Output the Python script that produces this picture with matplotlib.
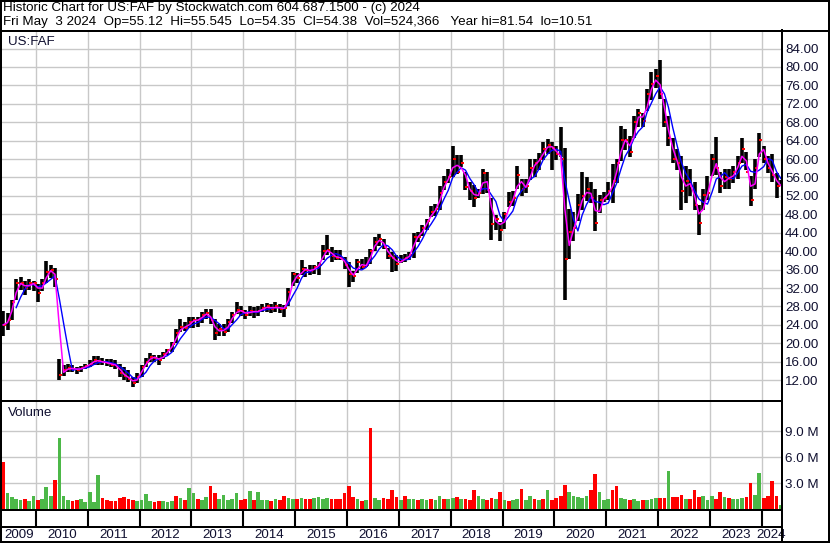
import matplotlib
matplotlib.use("Agg")
import matplotlib.pyplot as plt
from matplotlib.lines import Line2D
import numpy as np
import pandas as pd

# monthly bars, May 2009 .. May 2024
hi_2009 = [27, 26.5, 29.5, 34, 34.5, 33.5, 34, 33.5]
lo_2009 = [21.5, 23, 25, 29.5, 31.5, 30.5, 31.5, 31.3]
cl_2009 = [24, 25, 29, 33, 33, 32, 33, 33]

hi_2010 = [32.8, 34, 37.8, 37, 36.3, 16.5, 15.2, 15.6, 15.3, 14.9, 15, 15.6]
lo_2010 = [29, 31.3, 33, 34.2, 32.3, 12, 13, 13.8, 13.8, 13.4, 13.8, 14.4]
cl_2010 = [31, 33, 35.5, 36, 34, 13.2, 14.2, 14.6, 14.5, 14.3, 14.6, 15.1]

hi_2011 = [16.3, 17.3, 17.3, 16.8, 16.6, 16.5, 16.3, 15.5, 14.8, 14.2, 12.8, 13.6]
lo_2011 = [14.8, 15.2, 15.3, 15.2, 15.1, 14.8, 14.5, 12.8, 12.0, 11.6, 10.5, 11.3]
cl_2011 = [15.6, 16.4, 16.1, 15.9, 15.7, 15.4, 15.2, 13.6, 12.9, 12.3, 11.4, 12.7]

hi_2012 = [15.4, 16.8, 17.8, 17.5, 17.4, 18.1, 18.8, 20.3, 23.2, 25.3, 24.6, 25.7]
lo_2012 = [12.7, 14.9, 16, 16, 15.3, 16.5, 17.4, 18.1, 20, 22.5, 22.6, 23.3]
cl_2012 = [14.8, 16, 17.1, 16.9, 16.3, 17.6, 18.5, 19.8, 22.2, 23.6, 23.4, 24.6]

hi_2013 = [25.8, 25.8, 26.8, 27.4, 27.4, 25.2, 24.3, 24.2, 25.2, 26.7, 28.9, 28]
lo_2013 = [23.3, 23.5, 24.5, 25.3, 24.2, 20.8, 21.6, 21.5, 22.5, 24.5, 26.3, 26]
cl_2013 = [25.1, 25, 26.1, 26.6, 25, 22.2, 23.2, 22.4, 24.6, 26.2, 27.2, 27]

hi_2014 = [27.2, 28.2, 27.9, 28.1, 28.5, 28.8, 28.6, 28.9, 28.6, 28.4, 32, 35.5]
lo_2014 = [25.3, 26, 25.6, 26, 26.7, 26.8, 26.6, 26.7, 26.6, 25.8, 28.2, 32.5]
cl_2014 = [26.2, 27.1, 26.7, 27.1, 27.6, 28, 27.5, 28, 27.5, 27.6, 31.1, 35]

hi_2015 = [35.3, 38, 36.6, 36.9, 37, 37.7, 41.3, 43.5, 41, 40.2, 40.3, 38.8]
lo_2015 = [33, 34.8, 34.4, 34.8, 35, 34.8, 38, 39.1, 37.6, 38, 38, 36.1]
cl_2015 = [34.2, 36.2, 36, 35.6, 36.5, 37.1, 40.1, 40.2, 39, 38.6, 38.6, 37.1]

hi_2016 = [37.7, 35.6, 38.4, 38.2, 38.7, 40.5, 43, 43.7, 42.7, 40.6, 39.8, 39.2]
lo_2016 = [32.2, 33.3, 35.2, 36.1, 36.5, 37.3, 40.1, 41.2, 40.4, 38.3, 35.5, 35.8]
cl_2016 = [35, 34.6, 37.6, 36.6, 37.1, 40.1, 42.1, 42.6, 41, 39, 38.6, 37.2]

hi_2017 = [39.2, 39.5, 39.8, 44, 44.2, 45.6, 47, 49.8, 50.2, 54.2, 56.4, 57.8]
lo_2017 = [37.4, 37.6, 38, 38.5, 41.9, 43.3, 44.6, 47.5, 47.6, 49, 53.3, 54.7]
cl_2017 = [38.1, 38.6, 39.1, 43.1, 43.1, 45.1, 46.6, 48.6, 49.1, 52.6, 55.1, 56.1]

hi_2018 = [62.9, 60.8, 60.8, 57.2, 55, 54.3, 53.5, 57.8, 57.2, 51.5, 47.8, 46.3]
lo_2018 = [56, 56.8, 58.2, 53.3, 51.2, 49.7, 51.5, 52.5, 52.6, 42.5, 44.7, 42.3]
cl_2018 = [60.1, 57.2, 59.1, 54, 53, 51.6, 52.6, 57, 53.2, 46, 47, 44.6]

hi_2019 = [48.6, 52.8, 53, 58.6, 55.7, 55.7, 60, 60, 61.4, 63.6, 64.3, 63.6]
lo_2019 = [44.8, 49.7, 49.8, 53.5, 52, 52.6, 55.5, 56.2, 57.6, 59.8, 61.2, 57.6]
cl_2019 = [48.1, 50.6, 51.6, 56.6, 53.6, 54.1, 58.1, 59.1, 60.1, 62.1, 63.1, 62.3]

hi_2020 = [62.9, 67, 62.5, 49.2, 48.5, 52.5, 57.2, 56, 55, 53.5, 52.2, 52.8]
lo_2020 = [59.8, 60.4, 29.3, 38.3, 42.2, 46.5, 49, 51, 50.5, 44.4, 48.3, 50.6]
cl_2020 = [61.1, 60.1, 38.3, 44.2, 45.1, 50, 52, 53.5, 51.6, 46.1, 51.1, 51.6]

hi_2021 = [55, 59, 60, 67.2, 66.5, 65, 69.4, 70.9, 70.1, 75.2, 78.8, 79.5]
lo_2021 = [51.2, 50.5, 54.8, 59.5, 62, 60.5, 64.5, 67, 67, 70.5, 72.8, 75.5]
cl_2021 = [53, 55.2, 59.1, 64.1, 64.2, 61.6, 68.1, 70.1, 68.2, 74.1, 76.2, 78.1]

hi_2022 = [81.5, 73, 69.3, 64.5, 62.2, 60.6, 58.6, 57.8, 55, 50, 53.5, 56.4]
lo_2022 = [73, 67, 62.8, 59.2, 57.6, 49, 50.5, 52, 49, 43.6, 49, 51.2]
cl_2022 = [74.2, 68.1, 64.6, 60.1, 59.1, 53.1, 55.2, 54.1, 50.1, 46.1, 52.1, 52.6]

hi_2023 = [61, 64.8, 57.1, 57.8, 57.8, 58.6, 60.7, 64.6, 61.5, 56.4, 60, 65.7]
lo_2023 = [56.3, 56.5, 52.6, 53.4, 53.5, 54.9, 55.6, 59.2, 57.6, 49.8, 53.4, 60.5]
cl_2023 = [60, 58, 54.1, 56.1, 55.6, 57.1, 59.1, 62.1, 57.1, 51.1, 58.1, 64.1]

hi_2024 = [62.9, 60.7, 61, 57, 55.5]
lo_2024 = [59.2, 57, 55, 51.5, 54.3]
cl_2024 = [60.1, 58.1, 56.6, 54.1, 54.4]

# volume, millions per bar, and bar direction (g = up, r = down)
vol_2009 = [5.4, 1.8, 1.4, 1.2, 1.0, 1.1, 0.9, 1.5]
vol_2010 = [1.0, 1.2, 2.5, 1.5, 3.3, 8.2, 1.5, 1.0, 0.9, 1.0, 1.2, 0.8]
vol_2011 = [2.0, 0.8, 3.9, 1.3, 1.0, 0.9, 0.9, 1.3, 1.4, 1.2, 1.0, 0.9]
vol_2012 = [1.0, 1.7, 0.9, 0.8, 0.9, 0.9, 0.8, 0.9, 1.5, 1.3, 1.0, 2.4]
vol_2013 = [1.8, 1.1, 1.0, 1.4, 2.6, 1.8, 1.2, 1.6, 1.0, 1.2, 1.8, 1.0]
vol_2014 = [1.1, 2.1, 1.0, 2.0, 1.0, 1.0, 0.9, 1.2, 1.0, 1.5, 1.3, 1.2]
vol_2015 = [1.2, 1.3, 1.1, 1.2, 1.3, 1.4, 1.2, 1.3, 1.2, 1.2, 1.1, 1.9]
vol_2016 = [2.6, 1.4, 1.2, 0.9, 1.0, 9.3, 1.3, 1.0, 1.3, 1.1, 2.2, 1.4]
vol_2017 = [1.0, 1.5, 1.1, 1.2, 1.0, 1.1, 1.0, 1.2, 1.0, 1.5, 1.1, 1.2]
vol_2018 = [1.3, 1.4, 1.2, 1.1, 1.0, 2.2, 1.5, 1.2, 1.0, 1.3, 1.2, 2.0]
vol_2019 = [1.0, 0.9, 1.0, 1.2, 2.3, 1.0, 1.5, 1.2, 1.0, 1.1, 2.2, 1.0]
vol_2020 = [1.3, 1.5, 2.8, 2.0, 1.5, 1.4, 1.3, 1.5, 2.2, 4.0, 2.0, 1.0]
vol_2021 = [1.2, 2.2, 2.6, 1.3, 1.2, 1.0, 1.1, 0.9, 1.0, 1.0, 1.1, 1.3]
vol_2022 = [1.3, 1.3, 4.4, 1.4, 1.4, 1.6, 1.2, 1.2, 2.2, 1.4, 1.5, 1.0]
vol_2023 = [1.5, 1.2, 2.0, 1.4, 1.3, 1.1, 1.2, 1.3, 1.4, 3.0, 1.6, 4.1]
vol_2024 = [1.3, 1.5, 3.2, 1.5, 0.5]

vol_dir = ["rggggrgg", "rgggrgggrrgg", "gggrrrrrrrrg", "gggrrgggrgrg",
           "grggrrgggggr", "rgrgggrgrrgg", "rgrrggggrrrr", "rrgrgrggrrrr",
           "grggrggrggrg", "grgrrrggrrgr", "grggrggrgrgr", "rrrgggggrrgg",
           "grrggrggrggg", "rrgrrrgrrrgg", "grrgrgggrrgg", "rrrrg"]

years = list(range(2009, 2025))
year_labels = [str(y) for y in years]

header1 = "Historic Chart for US:FAF by Stockwatch.com 604.687.1500 - (c) 2024"
header2 = ("Fri May  3 2024  Op=55.12  Hi=55.545  Lo=54.35  Cl=54.38  "
           "Vol=524,366   Year hi=81.54  lo=10.51")

hi = np.array(sum([globals()["hi_%d" % y] for y in years], []))
lo = np.array(sum([globals()["lo_%d" % y] for y in years], []))
cl = np.array(sum([globals()["cl_%d" % y] for y in years], []))
vol = np.array(sum([globals()["vol_%d" % y] for y in years], [])) * 1e6
up = np.array(list("".join(vol_dir))) == "g"

dates = pd.date_range("2009-05-01", "2024-05-01", freq="MS") + pd.Timedelta(days=14)
ma_fast = pd.Series(cl).rolling(2, min_periods=1).mean()
ma_slow = pd.Series(cl).rolling(4).mean()

plt.rcParams["font.family"] = ["Liberation Sans", "DejaVu Sans"]
W, H = 830, 543
fig = plt.figure(figsize=(W / 100, H / 100), dpi=100)
fig.patch.set_facecolor("white")


def box(l, t, r, b):
    return [l / W, 1 - b / H, (r - l) / W, (b - t) / H]


def seg(x0, y0, x1, y1, lw=2):
    fig.add_artist(Line2D([x0 / W, x1 / W], [1 - y0 / H, 1 - y1 / H],
                          transform=fig.transFigure, color="black", lw=lw * 0.72))


x_left = pd.Timestamp("2009-05-07")
x_right = pd.Timestamp("2024-05-16")
year_starts = [pd.Timestamp("%d-01-01" % y) for y in range(2010, 2025)]
grid_c = "#c8c8c8"
txt_c = "#101030"
fs = 9.6

# price panel
ax_p = fig.add_axes(box(2, 31, 781, 400))
ax_p.vlines(dates, lo, hi, color="black", lw=2.6)
ax_p.plot(dates, cl, ls="none", marker=1, ms=2.2, mew=1.4, color="red")
ax_p.plot(dates, ma_slow, color="#0000ff", lw=1.0)
ax_p.plot(dates, ma_fast, color="#ff00ff", lw=1.1)
ax_p.set_ylim(7.7, 87.8)
ax_p.set_yticks(np.arange(12, 85, 4))
ax_p.yaxis.set_major_formatter(matplotlib.ticker.FormatStrFormatter("%.2f"))

# volume panel
ax_v = fig.add_axes(box(2, 402, 781, 509))
ax_v.bar(dates, vol, width=26, color=np.where(up, "#4cb848", "#ff0000"))
ax_v.set_ylim(0, 12.35e6)
ax_v.set_yticks([3e6, 6e6, 9e6])
ax_v.set_yticklabels(["3.0 M", "6.0 M", "9.0 M"])

for ax in (ax_p, ax_v):
    ax.set_xlim(x_left, x_right)
    ax.set_xticks(year_starts)
    ax.set_xticklabels([])
    ax.grid(True, color=grid_c, lw=1.4 * 0.72)
    ax.set_axisbelow(True)
    ax.yaxis.tick_right()
    ax.tick_params(length=0, pad=3, labelsize=fs, labelcolor=txt_c)
    for s in ax.spines.values():
        s.set_visible(False)

# year strip
ax_y = fig.add_axes(box(2, 510, 781, 542))
ax_y.set_xlim(x_left, x_right)
ax_y.set_ylim(0, 32)
ax_y.axis("off")
ax_y.vlines(year_starts, 15, 32, color="black", lw=1.5)
for y, lab in zip(years, year_labels):
    a = max(pd.Timestamp("%d-01-01" % y), x_left)
    b = min(pd.Timestamp("%d-01-01" % (y + 1)), x_right)
    ax_y.text(a + (b - a) / 2, 7.5, lab, ha="center", va="center",
              fontsize=fs, color=txt_c, clip_on=False)

# frame lines
seg(0, 1, 829, 1)
seg(0, 541.5, 829, 541.5)
seg(1, 0, 1, 543)
seg(828.5, 0, 828.5, 543)
seg(0, 30.5, 829, 30.5)
seg(781.5, 30, 781.5, 543)
seg(0, 401, 781, 401)
seg(0, 510, 781, 510)
seg(0, 527, 781, 527)

fig.text(3 / W, 1 - 8.5 / H, header1, fontsize=fs, va="center", color="black")
fig.text(3 / W, 1 - 21.5 / H, header2, fontsize=fs, va="center", color="black")
fig.text(8 / W, 1 - 42 / H, "US:FAF", fontsize=fs, va="center", color=txt_c)
fig.text(8 / W, 1 - 413 / H, "Volume", fontsize=fs, va="center", color=txt_c)

fig.savefig("out.png", dpi=100)
